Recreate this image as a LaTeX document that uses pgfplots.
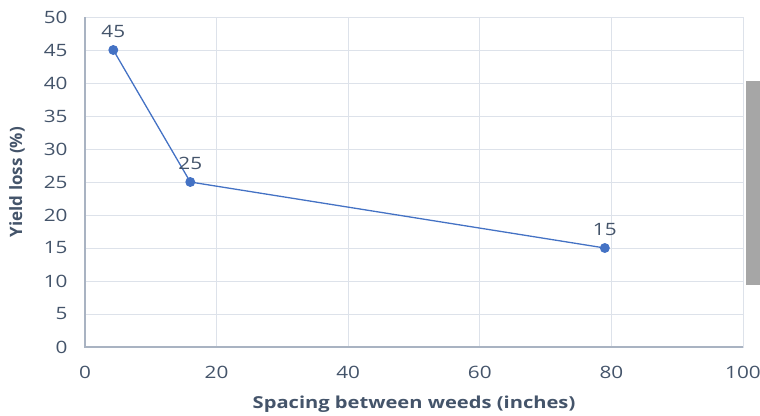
\documentclass[border=0pt]{standalone}
\usepackage{pgfplots}
\pgfplotsset{compat=1.18}
\usepackage{fontspec}
\setmainfont{Open Sans}[FakeStretch=1.22]
\newfontfamily\ylfont{Open Sans}
\definecolor{txt}{HTML}{44546A}
\definecolor{gridc}{HTML}{DDE2EA}
\definecolor{axc}{HTML}{A9B3C2}
\definecolor{ser}{HTML}{4472C4}
\begin{document}
\begin{tikzpicture}
\useasboundingbox (0,0) rectangle (760bp,416bp);
\begin{axis}[
  at={(85bp,69bp)}, anchor=south west,
  scale only axis, width=658bp, height=330bp,
  xmin=0, xmax=100, ymin=0, ymax=50,
  xtick={0,20,...,100}, ytick={0,5,...,50},
  grid=major, major grid style={gridc, line width=1pt},
  axis line style={gridc, line width=1pt},
  tick style={draw=none},
  /pgf/number format/assume math mode=true,
  ticklabel style={font=\fontsize{17bp}{19bp}\selectfont, text=txt},
  xticklabel style={yshift=-16bp},
  yticklabel style={xshift=-14bp},
  xlabel={Spacing between weeds (inches)},
  ylabel={Yield loss (\%)},
  xlabel style={font=\fontsize{16.5bp}{18bp}\selectfont\bfseries, text=txt, yshift=-10bp},
  ylabel style={font=\ylfont\fontsize{17bp}{19bp}\selectfont\bfseries, text=txt, yshift=12bp},
  clip=false,
]
\draw[axc, line width=1.3pt] (rel axis cs:0,1) -- (rel axis cs:0,0) -- (rel axis cs:1,0);
\addplot[ser, line width=1.3pt, mark=*, mark size=4.3pt, mark options={fill=ser, draw=ser},
  nodes near coords, point meta=explicit symbolic,
  every node near coord/.style={font=\fontsize{17bp}{19bp}\selectfont, text=txt, anchor=south, yshift=8bp}]
  coordinates {(4.3,45)[45] (16,25)[25] (79,15)[15]};
\end{axis}
\fill[black!35] (746bp,131bp) rectangle (760bp,335bp);
\end{tikzpicture}
\end{document}
